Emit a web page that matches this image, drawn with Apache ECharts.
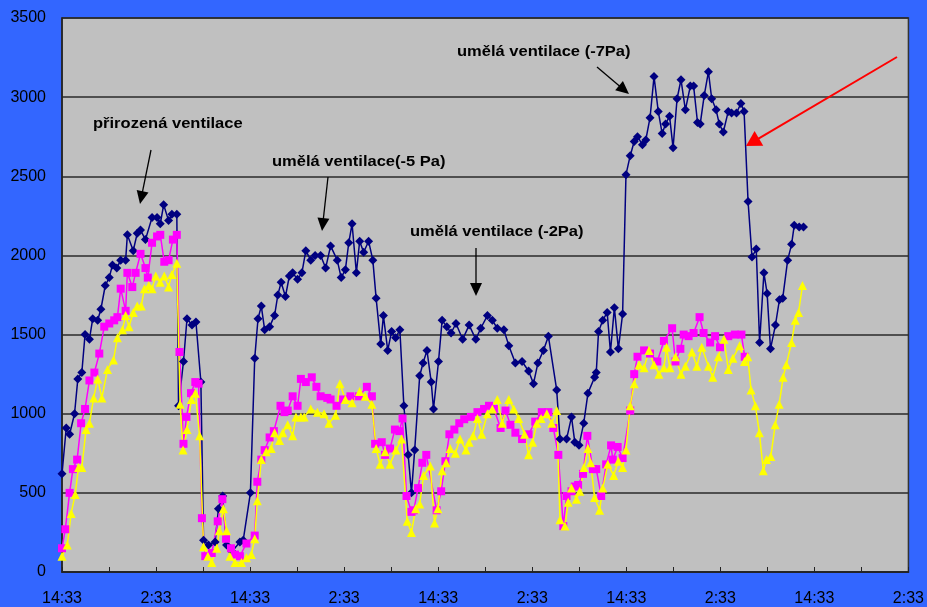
<!DOCTYPE html>
<html>
<head>
<meta charset="utf-8">
<script src="https://cdn.jsdelivr.net/npm/echarts@6/dist/echarts.min.js"></script>
<style>
html,body{margin:0;padding:0;background:#3366ff;}
#c{width:927px;height:607px;}
</style>
</head>
<body>
<div id="c"></div>
<script>
// Time in hours since the first 14:33 reading
var blueT = [0,0.54,0.97,1.6,2.02,2.53,2.94,3.5,3.92,4.55,4.96,5.52,6.03,6.44,6.99,7.49,8.12,8.34,9.09,9.6,10.02,10.65,11.49,12.13,12.54,12.97,13.6,14.02,14.65,14.87,15.5,15.95,16.59,17.09,17.72,18.06,18.69,19.54,19.96,20.5,21.0,21.7,22.7,23.12,24.04,24.59,25.01,25.43,25.86,26.49,27.12,27.54,27.96,28.51,29.01,29.43,30.06,30.61,31.11,31.74,32.3,33.0,33.64,34.27,35.12,35.62,36.16,36.59,37.01,37.56,37.98,38.49,39.12,39.66,40.08,40.67,41.01,41.56,42.06,42.57,43.11,43.62,44.17,44.59,45.0,45.64,46.07,46.57,47.11,47.4,48.04,48.5,49.1,49.64,50.27,51.12,51.95,52.8,53.43,54.28,54.91,55.54,56.38,57.01,57.85,58.7,59.53,60.16,60.72,61.43,62.06,63.12,63.54,64.38,65.01,65.43,65.97,66.57,67.11,67.96,68.17,68.46,69.0,69.56,69.98,70.48,70.99,71.53,71.96,72.5,73.01,73.43,74.06,74.49,75.03,75.54,76.08,76.58,77.01,77.52,77.97,78.48,78.98,79.54,80.17,80.59,81.09,81.43,81.94,82.48,82.9,83.46,83.87,84.38,85.01,85.43,86.06,86.62,87.03,87.54,88.04,88.58,89.01,89.56,89.97,90.4,91.03,91.54,91.96,92.59,93.09,93.43,94.06,94.61];
var blueV = [620,910,870,1000,1220,1260,1500,1470,1600,1590,1660,1810,1860,1940,1920,1970,1970,2130,2030,2140,2160,2100,2240,2240,2200,2320,2220,2260,2260,1050,1330,1600,1560,1580,1200,200,170,190,400,480,170,130,190,200,500,1350,1600,1680,1530,1550,1620,1750,1830,1740,1870,1890,1850,1890,2030,1970,2000,2000,1920,2060,1970,1860,1910,2080,2200,1890,2090,2020,2090,1970,1730,1440,1620,1400,1520,1480,1530,1050,740,500,770,1240,1320,1400,1200,1030,1330,1590,1550,1510,1570,1470,1560,1470,1540,1620,1590,1540,1530,1430,1320,1330,1270,1190,1320,1400,1490,1150,840,840,980,820,800,940,1130,1230,1260,1520,1590,1640,1390,1670,1410,1630,2510,2630,2720,2750,2700,2730,2870,3130,2910,2770,2830,2880,2680,2990,3110,2920,3070,3070,2840,2830,3010,3160,2990,2920,2830,2780,2910,2900,2900,2960,2910,2340,1990,2040,1450,1890,1760,1410,1560,1720,1730,1970,2070,2190,2180,2180];

var pinkT = [0,0.42,0.97,1.39,1.93,2.44,2.94,3.5,4.13,4.76,5.39,6.03,6.66,7.07,7.49,8.12,8.34,8.97,9.39,10.02,10.65,10.95,11.49,12.13,12.54,13.05,13.6,14.15,14.65,14.99,15.5,15.88,16.46,17.01,17.43,17.85,18.28,19.11,19.87,20.46,20.93,21.56,22.07,22.7,23.53,24.59,24.92,25.43,25.86,26.49,27.03,27.88,28.38,28.8,29.43,30.06,30.48,31.11,31.87,32.46,33.0,33.85,34.27,35.03,35.87,36.8,37.9,38.9,39.54,39.95,40.8,41.22,41.85,42.48,43.04,43.45,43.96,44.59,44.88,45.43,45.98,46.48,47.8,48.38,48.92,49.43,50.06,50.69,51.32,52.17,53.01,53.85,54.48,55.11,55.96,56.59,57.22,57.85,58.7,59.53,60.38,61.22,62.06,62.69,63.33,63.96,64.38,65.01,65.43,65.85,66.48,67.03,67.74,68.17,68.8,69.43,70.06,70.27,70.9,71.53,72.5,73.01,73.43,74.27,75.03,75.96,76.8,77.85,78.27,78.9,79.32,79.95,80.59,81.35,81.86,82.7,83.33,83.96,85.01,85.85,86.69,87.11];
var pinkV = [150,270,500,650,710,940,1030,1210,1260,1380,1550,1570,1590,1610,1790,1650,1890,1800,1890,2010,1920,1860,2080,2120,2130,1960,1970,2100,2130,1390,810,980,1130,1200,1190,340,100,120,320,460,210,150,110,100,180,230,570,710,770,850,890,1050,1010,1020,1110,1050,1220,1200,1230,1170,1110,1100,1090,1050,1090,1110,1110,1170,1110,810,820,740,780,900,890,970,480,380,390,530,690,740,390,510,700,870,900,940,965,980,1010,1030,1050,1030,910,1020,930,880,840,870,950,1010,1010,910,740,290,480,510,540,550,620,860,650,650,480,680,800,710,790,720,1020,1250,1360,1400,1380,1330,1460,1540,1330,1410,1500,1490,1510,1610,1510,1450,1490,1420,1490,1500,1500,1360];

var yellowT = [0,0.67,1.17,1.68,2.11,2.53,3.07,3.5,4.04,4.55,5.09,5.81,6.57,7.07,7.71,8.12,8.55,9.09,9.6,10.11,10.52,11.08,11.49,11.96,12.54,13.05,13.6,14.02,14.65,15.07,15.45,15.95,16.51,17.01,17.56,18.06,18.61,19.11,19.74,20.08,20.59,21.0,21.43,22.07,22.9,23.53,24.16,24.59,24.92,25.43,26.06,26.69,27.12,27.75,28.17,28.8,29.43,29.85,30.48,30.9,31.74,32.59,33.44,34.07,34.9,35.46,36.16,37.01,37.98,38.69,39.54,40.08,40.59,41.22,41.85,42.6,43.33,44.05,44.59,45.13,45.64,46.14,46.99,47.53,47.96,48.5,49.01,49.52,50.19,50.78,51.54,51.95,52.45,53.01,53.56,54.28,54.91,55.54,56.17,57.01,57.64,58.27,59.03,59.53,60.04,60.59,61.13,61.86,62.49,63.12,63.54,64.17,64.59,65.01,65.64,66.06,66.6,67.11,67.45,67.96,68.59,69.0,69.64,70.39,70.99,71.53,71.96,72.5,73.01,73.64,74.27,74.9,75.54,76.17,76.8,77.14,77.56,78.27,78.98,79.54,80.38,81.01,81.64,82.48,83.03,83.75,84.47,85.01,85.6,86.45,87.08,87.5,87.92,88.47,88.98,89.48,89.9,90.44,91.0,91.51,92.01,92.42,93.09,93.56,93.98,94.48];
var yellowV = [100,170,370,490,660,660,900,940,1100,1220,1100,1280,1340,1480,1530,1620,1550,1640,1680,1680,1790,1810,1790,1870,1830,1870,1800,1880,1950,1060,770,900,1090,1130,860,160,100,60,150,260,400,260,100,60,60,90,110,210,450,710,760,780,880,830,880,930,860,980,980,980,1030,1010,1000,940,990,1190,1090,1070,1140,1110,1060,780,680,760,680,770,840,320,250,400,430,610,670,310,400,640,690,780,750,840,770,820,860,970,870,1000,1030,1090,940,1090,1030,970,870,740,820,940,970,1000,940,1020,330,290,440,530,460,510,660,780,690,470,390,530,680,610,700,660,770,1050,1190,1310,1290,1400,1310,1250,1290,1420,1290,1360,1250,1300,1390,1300,1420,1300,1230,1360,1470,1280,1350,1430,1330,1360,1150,1050,880,640,710,730,930,1060,1230,1310,1450,1590,1640,1810];

var yTicks = [0,500,1000,1500,2000,2500,3000,3500];
var xLabelDay = '14:33';
var xLabelNight = '2:33';

function pairs(t, v){ var out=[]; for (var i=0;i<t.length;i++) out.push([t[i], v[i]]); return out; }

var chart = echarts.init(document.getElementById('c'), null, {renderer:'canvas'});

function arrow(x1,y1,x2,y2,color,headLen,headW,lw){
  var dx=x2-x1, dy=y2-y1, L=Math.sqrt(dx*dx+dy*dy), ux=dx/L, uy=dy/L;
  var bx=x2-ux*headLen, by=y2-uy*headLen, px=-uy, py=ux;
  return [
    {type:'line', silent:true, shape:{x1:x1,y1:y1,x2:bx+ux*2,y2:by+uy*2}, style:{stroke:color,lineWidth:lw}, z:100},
    {type:'polygon', silent:true, shape:{points:[[x2,y2],[bx+px*headW/2,by+py*headW/2],[bx-px*headW/2,by-py*headW/2]]}, style:{fill:color}, z:100}
  ];
}
function label(txt,x,y){
  return {type:'text', silent:true, z:100, x:x, y:y, scaleX:1.18, scaleY:1,
    style:{text:txt, x:0, y:0, fill:'#000', font:'bold 14px "Liberation Sans", Arial, sans-serif', textVerticalAlign:'middle', verticalAlign:'middle'}};
}

var graphics = [].concat(
  [label('přirozená ventilace',93,124)], arrow(151,150,140,204,'#000',13,12,1.3),
  [label('umělá ventilace(-5 Pa)',272,162)], arrow(328,177,322,231,'#000',13,12,1.3),
  [label('umělá ventilace (-2Pa)',410,232)], arrow(476,248,476,296,'#000',13,12,1.3),
  [label('umělá ventilace (-7Pa)',457,52)], arrow(597,67,629,94,'#000',13,12,1.3),
  arrow(897,57,746,146,'#ff0000',15,17,2)
);

chart.setOption({
  animation:false,
  backgroundColor:'#3366ff',
  grid:{left:62, right:10, top:18, bottom:34, show:true, backgroundColor:'#c0c0c0', borderColor:'#333', borderWidth:1.5},
  xAxis:{
    type:'value', min:0, max:108, interval:6,
    axisLine:{show:true, lineStyle:{color:'#222', width:1.5}},
    axisTick:{show:true, inside:true, length:5, lineStyle:{color:'#222'}},
    splitLine:{show:false},
    axisLabel:{color:'#000', fontSize:16, fontFamily:'"Liberation Sans", Arial, sans-serif', margin:19, showMaxLabel:true, showMinLabel:true,
      alignMaxLabel:'center', alignMinLabel:'center', hideOverlap:false,
      formatter:function(v){ var m=Math.round(v)%24; return m===0?xLabelDay:(m===12?xLabelNight:''); }}
  },
  yAxis:{
    type:'value', min:yTicks[0], max:yTicks[yTicks.length-1], interval:yTicks[1]-yTicks[0],
    axisLine:{show:true, lineStyle:{color:'#222', width:1.5}},
    axisTick:{show:false},
    splitLine:{show:true, lineStyle:{color:'#2a2a2a', width:1.5}},
    axisLabel:{color:'#000', fontSize:16, fontFamily:'"Liberation Sans", Arial, sans-serif', margin:16,
      formatter:function(v){ return String(v); }}
  },
  series:[
    {type:'line', name:'blue', data:pairs(blueT,blueV), symbol:'diamond', symbolSize:9,
     lineStyle:{color:'#000080', width:1.5}, itemStyle:{color:'#000080'}},
    {type:'line', name:'pink', data:pairs(pinkT,pinkV), symbol:'rect', symbolSize:8,
     lineStyle:{color:'#ff00ff', width:1.5}, itemStyle:{color:'#ff00ff'}},
    {type:'line', name:'yellow', data:pairs(yellowT,yellowV), symbol:'triangle', symbolSize:9,
     lineStyle:{color:'#ffff00', width:1.5}, itemStyle:{color:'#ffff00'}}
  ],
  graphic:graphics
});
</script>
</body>
</html>
